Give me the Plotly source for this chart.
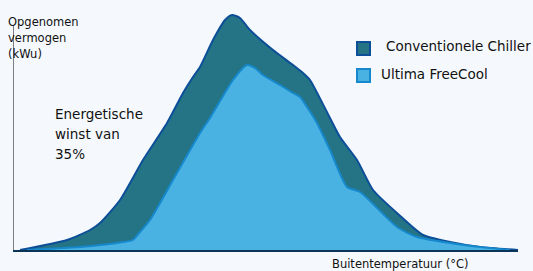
import plotly.graph_objects as go

# Conventionele Chiller curve (arbitrary units)
chiller_x = [7, 54, 77, 87, 107, 130, 154, 170, 180, 187, 200, 212, 219, 227, 237, 260, 280, 290, 297, 317, 327, 344, 360, 384, 410, 437, 467, 505]
chiller_y = [0, 10, 20, 27, 50, 90, 127, 157, 173, 183, 210, 230, 235, 232, 220, 200, 185, 177, 170, 132, 113, 90, 60, 37, 15, 8, 3, 0]

# Ultima FreeCool curve
free_x = [14, 67, 110, 120, 127, 137, 160, 187, 197, 220, 234, 242, 250, 267, 280, 287, 294, 304, 317, 334, 347, 384, 404, 437, 467, 497]
free_y = [0, 3, 8, 10, 18, 30, 70, 117, 132, 170, 185, 182, 175, 165, 157, 153, 143, 127, 100, 63, 58, 23, 13, 7, 3, 0]

series_names = ["Conventionele Chiller", "Ultima FreeCool"]
annotation_lines = ["Energetische", "winst van", "35%"]
y_title_lines = ["Opgenomen", "vermogen", "(kWu)"]
x_title = "Buitentemperatuur (°C)"

BG = "#f5f9fd"
DARK_FILL = "#247486"
DARK_LINE = "#0d4e98"
LIGHT_FILL = "#4ab2e2"
LIGHT_LINE = "#1688cc"
FONT = "DejaVu Sans"

fig = go.Figure()
fig.add_trace(go.Scatter(x=chiller_x, y=chiller_y, mode="lines", fill="tozeroy",
                         fillcolor=DARK_FILL, line=dict(color=DARK_LINE, width=2, shape="spline", smoothing=0.6),
                         name=series_names[0], showlegend=False, hoverinfo="skip"))
fig.add_trace(go.Scatter(x=free_x, y=free_y, mode="lines", fill="tozeroy",
                         fillcolor=LIGHT_FILL, line=dict(color=LIGHT_LINE, width=2, shape="spline", smoothing=0.6),
                         name=series_names[1], showlegend=False, hoverinfo="skip"))

annotations = []
for i, t in enumerate(y_title_lines):
    annotations.append(dict(x=6, xanchor="left", y=22 + i * 16,
                            text=t, showarrow=False, font=dict(family=FONT, size=11.5, color="#111")))
for i, t in enumerate(annotation_lines):
    annotations.append(dict(x=53, xanchor="left", y=114 + i * 20, text=t, showarrow=False,
                            font=dict(family=FONT, size=13.5, color="#111")))
annotations.append(dict(x=330, xanchor="left", y=264, text=x_title, showarrow=False,
                        font=dict(family=FONT, size=11.5, color="#111")))
annotations.append(dict(x=384, xanchor="left", y=46, text=series_names[0], showarrow=False,
                        font=dict(family=FONT, size=13.5, color="#111")))
annotations.append(dict(x=379, xanchor="left", y=74, text=series_names[1], showarrow=False,
                        font=dict(family=FONT, size=13.5, color="#111")))

# convert pixel-placed annotation positions to paper coordinates
W, H = 533, 271
for a in annotations:
    a["xref"] = "paper"
    a["yref"] = "paper"
    a["yanchor"] = "middle"
    a["x"] = (a["x"] - 13) / (518 - 13)
    a["y"] = (250 - a["y"]) / (250 - 10)

shapes = [
    dict(type="line", xref="x", yref="y", x0=0, x1=0, y0=0, y1=225, line=dict(color="#555", width=1.5)),
    dict(type="rect", xref="paper", yref="paper",
         x0=(357 - 13) / 505, x1=(370 - 13) / 505, y0=(250 - 55) / 240, y1=(250 - 42) / 240,
         fillcolor=DARK_FILL, line=dict(color=DARK_LINE, width=2)),
    dict(type="rect", xref="paper", yref="paper",
         x0=(357 - 13) / 505, x1=(370 - 13) / 505, y0=(250 - 82) / 240, y1=(250 - 69) / 240,
         fillcolor=LIGHT_FILL, line=dict(color=LIGHT_LINE, width=2)),
]

fig.update_layout(
    width=W, height=H,
    margin=dict(l=13, r=15, t=10, b=21),
    paper_bgcolor=BG, plot_bgcolor=BG,
    annotations=annotations, shapes=shapes,
    xaxis=dict(range=[0, 505], showgrid=False, zeroline=False, showticklabels=False,
               showline=True, linecolor="#0b3556", linewidth=2, ticks=""),
    yaxis=dict(range=[0, 240], showgrid=False, zeroline=False, showticklabels=False,
               showline=False, ticks=""),
)
fig.write_html("out.html", config={"displayModeBar": False},
               post_script="document.body.style.margin='0';")
